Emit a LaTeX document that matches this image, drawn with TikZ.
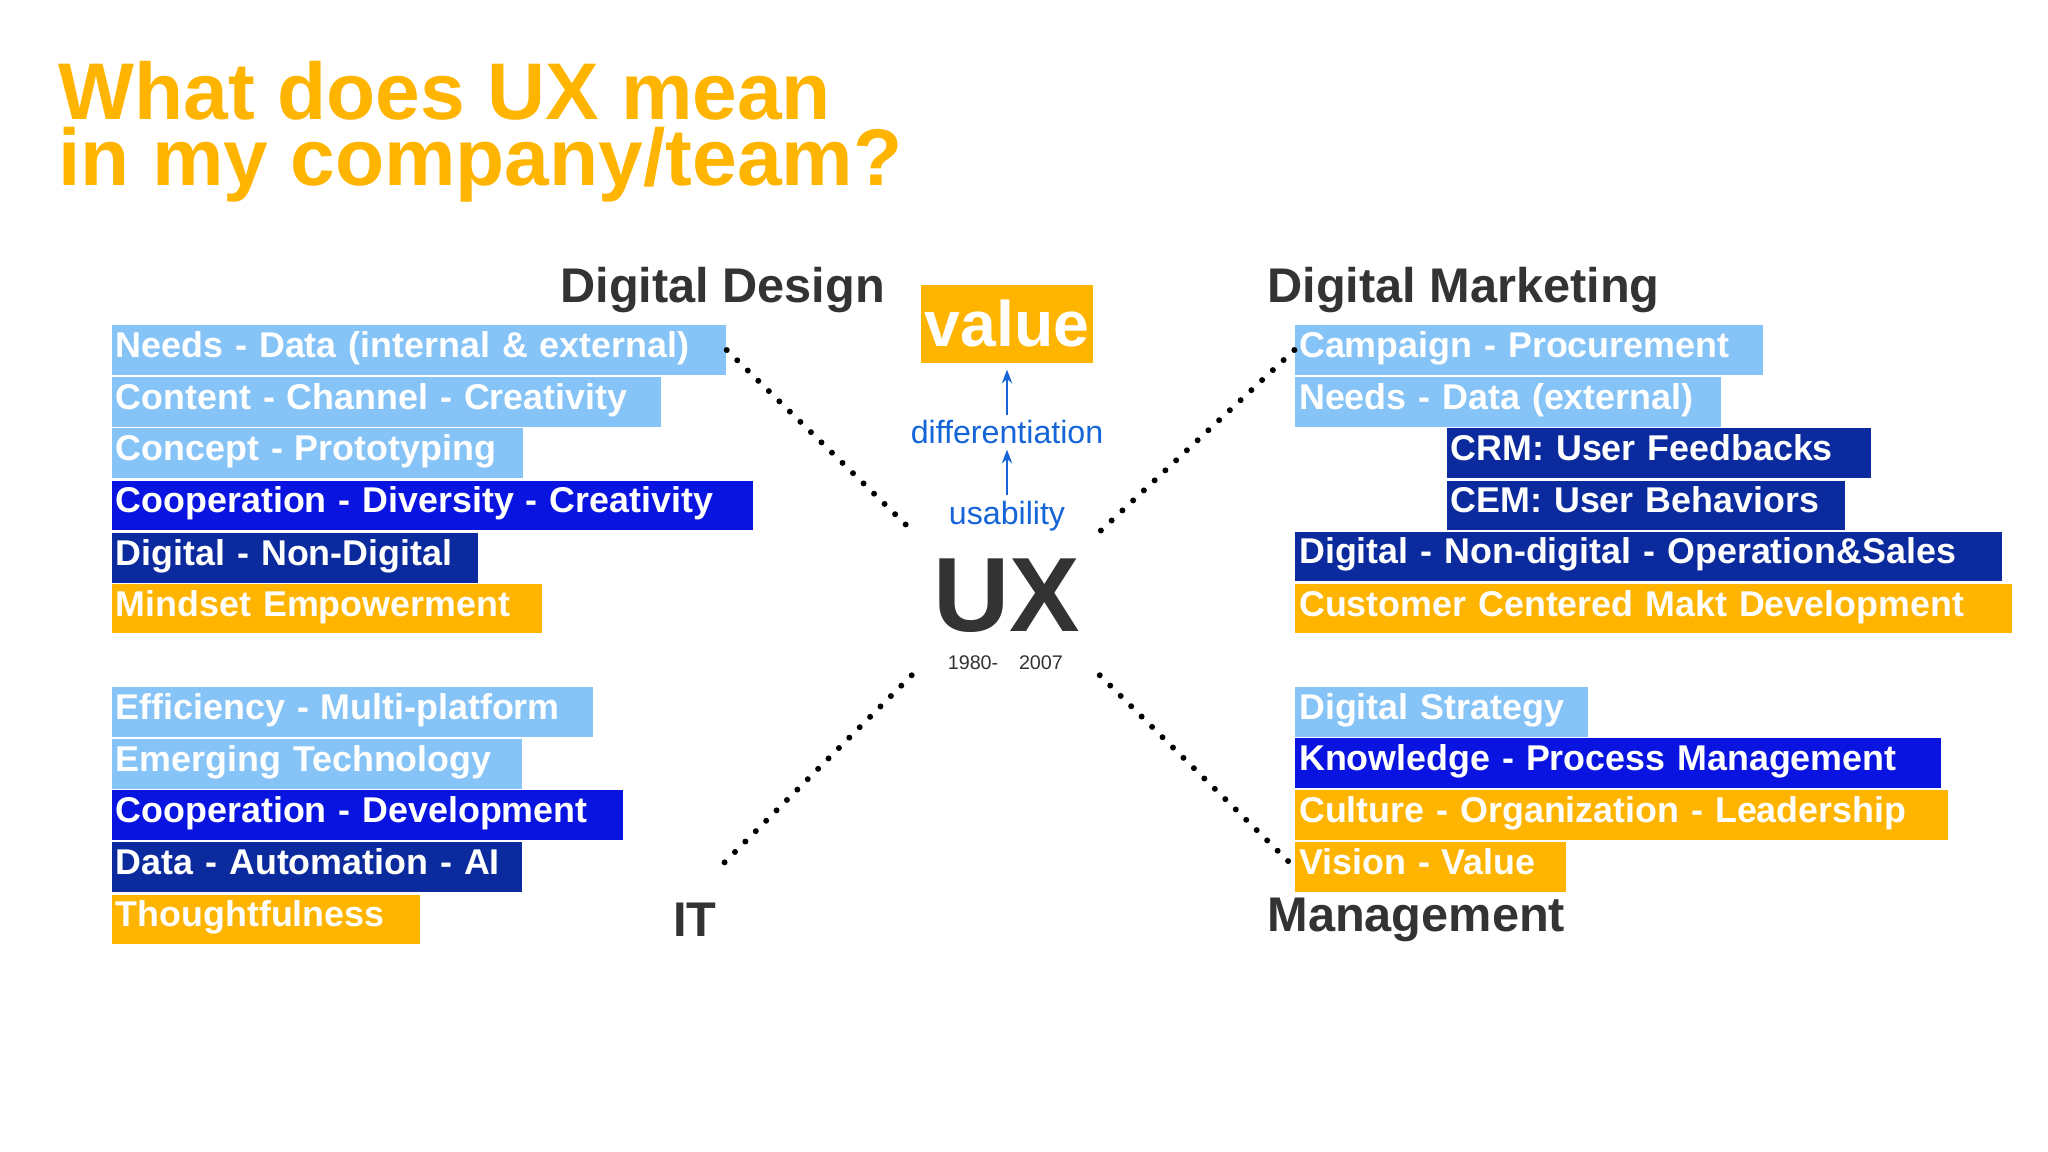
\documentclass[tikz,border=0pt]{standalone}
\usepackage{fontspec}
\setmainfont{Liberation Sans}
\usetikzlibrary{arrows.meta}
\definecolor{lb}{HTML}{86C3F7}
\definecolor{bb}{HTML}{0A14E0}
\definecolor{db}{HTML}{0B2A9E}
\definecolor{og}{HTML}{FFB400}
\definecolor{hd}{HTML}{333333}
\definecolor{tb}{HTML}{1565D8}
\tikzset{
 box/.style={anchor=west,inner xsep=0.03cm,inner ysep=0pt,minimum height=0.38cm,text=white,font=\fontsize{7.8}{8}\selectfont\bfseries,align=left},
 head/.style={text=hd,font=\fontsize{10.6}{12}\selectfont\bfseries},
 dots/.style={line width=1.3pt,dash pattern=on 0pt off 3.2pt,line cap=round},
 barrow/.style={-{Stealth[length=3pt]},tb,line width=0.6pt}
}
\newcommand{\bx}[6]{\node[box,fill=#5,text width={(#3-#2-6)*0.01cm}] (#1) at (#2,#4) {\strut#6};}
\begin{document}
\begin{tikzpicture}[x=0.01cm,y=-0.01cm]
\useasboundingbox[fill=white] (0,0) rectangle (1568,882);
\node[anchor=north west,text=og,font=\fontsize{17.5}{14.5}\selectfont\bfseries,align=left,inner sep=0] (title) at (44,46) {What does UX mean\\in my company/team?};
\node[head,anchor=east] (dd) at (690,222) {Digital Design};
\node[head,anchor=west] (dm) at (958,222) {Digital Marketing};
\node[head] (it) at (532,704) {IT};
\node[head,anchor=west] (mg) at (958,704) {Management};
\node[fill=og,text=white,font=\fontsize{14}{16}\selectfont\bfseries,minimum width=1.32cm,minimum height=0.6cm,inner sep=0] (val) at (771,248) {value};
\node[text=tb,font=\fontsize{7}{8}\selectfont,inner sep=1pt] (diff) at (771,331) {differentiation};
\node[text=tb,font=\fontsize{7}{8}\selectfont,inner sep=1pt] (usa) at (771,395) {usability};
\node[text=hd,font=\fontsize{23}{24}\selectfont\bfseries,inner sep=0] (ux) at (771,456) {UX};
\node[text=hd,font=\fontsize{4.3}{5}\selectfont,inner sep=1pt] (y1) at (745,507) {1980-};
\node[text=hd,font=\fontsize{4.3}{5}\selectfont,inner sep=1pt] (y2) at (797,507) {2007};
\draw[barrow] (diff.north) -- (val.south |- 0,283);
\draw[barrow] (usa.north) -- (diff.south);
% left
\bx{a1}{85}{555}{268}{lb}{Needs - Data (internal \& external)}
\bx{a2}{85}{505}{308}{lb}{Content - Channel - Creativity}
\bx{a3}{85}{400}{347}{lb}{Concept - Prototyping}
\bx{a4}{85}{576}{387}{bb}{Cooperation - Diversity - Creativity}
\bx{a5}{85}{365}{427}{db}{Digital - Non-Digital}
\bx{a6}{85}{414}{466}{og}{Mindset Empowerment}
\bx{b1}{85}{453}{545}{lb}{Efficiency - Multi-platform}
\bx{b2}{85}{399}{585}{lb}{Emerging Technology}
\bx{b3}{85}{476}{624}{bb}{Cooperation - Development}
\bx{b4}{85}{399}{664}{db}{Data - Automation - AI}
\bx{b5}{85}{321}{704}{og}{Thoughtfulness}
% right
\bx{c1}{991}{1349}{268}{lb}{Campaign - Procurement}
\bx{c2}{991}{1317}{308}{lb}{Needs - Data (external)}
\bx{c3}{1107}{1432}{347}{db}{CRM: User Feedbacks}
\bx{c4}{1107}{1412}{387}{db}{CEM: User Behaviors}
\bx{c5}{991}{1532}{426}{db}{Digital - Non-digital - Operation\&Sales}
\bx{c6}{991}{1540}{466}{og}{Customer Centered Makt Development}
\bx{d1}{991}{1215}{545}{lb}{Digital Strategy}
\bx{d2}{991}{1485}{584}{bb}{Knowledge - Process Management}
\bx{d3}{991}{1491}{624}{og}{Culture - Organization - Leadership}
\bx{d4}{991}{1198}{664}{og}{Vision - Value}
% dotted connectors
\coordinate (p1) at (700,408);
\coordinate (p2) at (842,407);
\coordinate (p3) at (698,517);
\coordinate (p4) at (842,517);
\coordinate (q3) at (550,665);
\draw[dots] (a1.east) -- (p1);
\draw[dots] (c1.west) -- (p2);
\draw[dots] (p3) -- (q3);
\draw[dots] (p4) -- (d4.west);
\end{tikzpicture}
\end{document}
